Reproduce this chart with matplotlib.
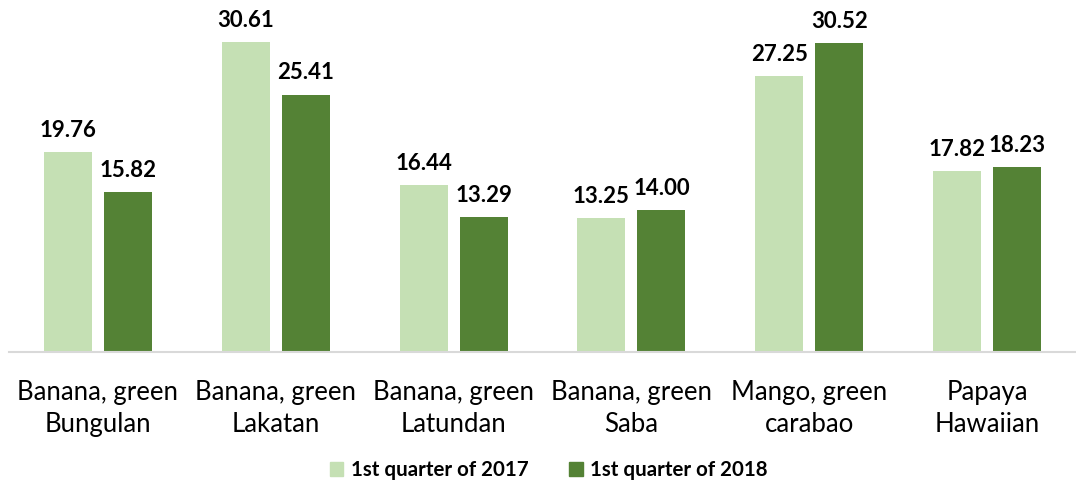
import matplotlib
matplotlib.use("Agg")
import matplotlib.pyplot as plt
import numpy as np
from matplotlib.patches import Patch

categories = ["Banana, green\nBungulan", "Banana, green\nLakatan", "Banana, green\nLatundan",
              "Banana, green\nSaba", "Mango, green\ncarabao", "Papaya\nHawaiian"]
series_names = ["1st quarter of 2017", "1st quarter of 2018"]
q2017 = [19.76, 30.61, 16.44, 13.25, 27.25, 17.82]
q2018 = [15.82, 25.41, 13.29, 14.00, 30.52, 18.23]
colors = ["#C5E0B4", "#548235"]

plt.rcParams['font.family'] = ['Lato', 'DejaVu Sans']

fig = plt.figure(figsize=(10.76, 4.82), dpi=100)
ax = fig.add_axes([9/1076, (482-352)/482, 1067/1076, 352/482])

x = np.arange(len(categories))
w = 0.27
off = 0.169
b1 = ax.bar(x - off, q2017, w, color=colors[0], label=series_names[0])
b2 = ax.bar(x + off, q2018, w, color=colors[1], label=series_names[1])

for bars, vals in ((b1, q2017), (b2, q2018)):
    for b, v in zip(bars, vals):
        ax.annotate(f"{v:.2f}", (b.get_x() + b.get_width()/2, v), xytext=(0, 8),
                    textcoords="offset points", ha="center", va="bottom",
                    fontsize=16, fontweight="bold", color="black")

ax.set_xlim(-0.5, len(categories) - 0.5)
ax.set_ylim(0, 34.75)
ax.set_yticks([])
for s in ["top", "right", "left"]:
    ax.spines[s].set_visible(False)
ax.spines["bottom"].set_color("#D9D9D9")
ax.spines["bottom"].set_linewidth(1.5)
ax.set_xticks(x)
ax.set_xticklabels(categories, fontsize=18.5, linespacing=1.38)
ax.tick_params(axis="x", length=0, pad=20)

handles = [Patch(color=colors[0]), Patch(color=colors[1])]
fig.legend(handles, series_names, loc="center", bbox_to_anchor=(0.51, 1 - 470/482),
           ncol=2, frameon=False, prop={"weight": "bold", "size": 14.8},
           handlelength=0.65, handleheight=0.65, handletextpad=0.35, columnspacing=2.0)

fig.savefig("out.png", dpi=100)
